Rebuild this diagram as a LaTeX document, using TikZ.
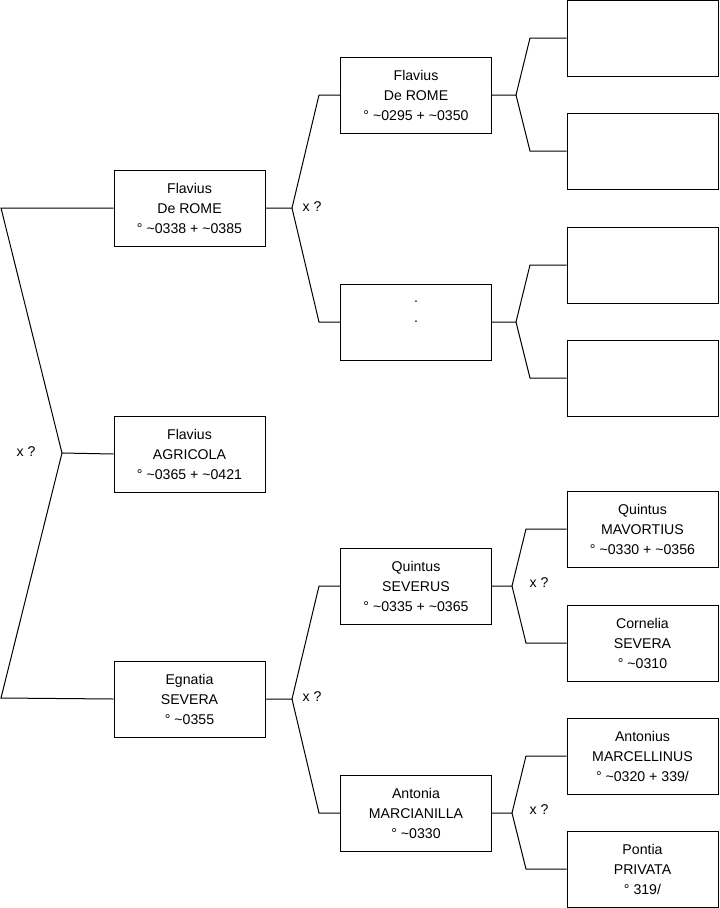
\documentclass[tikz,border=0pt]{standalone}
\usepackage{fontspec}
\setmainfont{Liberation Sans}
\usepackage{tikz}
\tikzset{
    persona/.style={
        draw,
        line width=0.75pt,
        minimum width=113.25pt,
        minimum height=57pt,
        inner sep=0pt,
        align=center,
        font=\fontsize{10.6}{15}\selectfont
    },
    enlace/.style={
        line width=0.75pt
    },
    pregunta/.style={
        font=\fontsize{10.6}{15}\selectfont
    }
}

\begin{document}
\begin{tikzpicture}[
    x=0.75pt,
    y=-0.75pt
]
    \useasboundingbox (0,0) rectangle (719,908);

    % Personas
    \node[persona] (fr1) at (189.5,208) {Flavius\\De ROME\\° \textasciitilde0338 + \textasciitilde0385};
    \node[persona] (fa)  at (189.5,454) {Flavius\\AGRICOLA\\° \textasciitilde0365 + \textasciitilde0421};
    \node[persona] (es)  at (189.5,699) {Egnatia\\SEVERA\\° \textasciitilde0355};

    \node[persona] (fr2) at (416,95)  {Flavius\\De ROME\\° \textasciitilde0295 + \textasciitilde0350};
    \node[persona] (dd)  at (416,322) {.\\.\\~};
    \node[persona] (qs)  at (416,586) {Quintus\\SEVERUS\\° \textasciitilde0335 + \textasciitilde0365};
    \node[persona] (am)  at (416,813) {Antonia\\MARCIANILLA\\° \textasciitilde0330};

    \node[persona] (e1)  at (642.5,38)  {};
    \node[persona] (e2)  at (642.5,151) {};
    \node[persona] (e3)  at (642.5,265) {};
    \node[persona] (e4)  at (642.5,378) {};
    \node[persona] (qm)  at (642.5,529) {Quintus\\MAVORTIUS\\° \textasciitilde0330 + \textasciitilde0356};
    \node[persona] (cs)  at (642.5,643) {Cornelia\\SEVERA\\° \textasciitilde0310};
    \node[persona] (ma)  at (642.5,756) {Antonius\\MARCELLINUS\\° \textasciitilde0320 + 339/};
    \node[persona] (pp)  at (642.5,869) {Pontia\\PRIVATA\\° 319/};

    % Bifurcaciones
    \coordinate (r0) at (62,453);
    \coordinate (r1) at (1,208);
    \coordinate (r2) at (1,698);

    \coordinate (a0) at (292,208);
    \coordinate (a1) at (319,95);
    \coordinate (a2) at (319,322);

    \coordinate (b0) at (292,699);
    \coordinate (b1) at (319,586);
    \coordinate (b2) at (319,813);

    \coordinate (c0) at (516,95);
    \coordinate (c1) at (530,38);
    \coordinate (c2) at (530,151);

    \coordinate (d0) at (516,322);
    \coordinate (d1) at (530,265);
    \coordinate (d2) at (530,378);

    \coordinate (g0) at (512,586);
    \coordinate (g1) at (526,529);
    \coordinate (g2) at (526,643);

    \coordinate (h0) at (512,813);
    \coordinate (h1) at (526,756);
    \coordinate (h2) at (526,869);

    % Enlaces
    \draw[enlace] (fa.west) -- (r0) -- (r1) -- (fr1.west);
    \draw[enlace] (r0) -- (r2) -- (es.west);

    \draw[enlace] (fr1.east) -- (a0) -- (a1) -- (fr2.west);
    \draw[enlace] (a0) -- (a2) -- (dd.west);

    \draw[enlace] (es.east) -- (b0) -- (b1) -- (qs.west);
    \draw[enlace] (b0) -- (b2) -- (am.west);

    \draw[enlace] (fr2.east) -- (c0) -- (c1) -- (e1.west);
    \draw[enlace] (c0) -- (c2) -- (e2.west);

    \draw[enlace] (dd.east) -- (d0) -- (d1) -- (e3.west);
    \draw[enlace] (d0) -- (d2) -- (e4.west);

    \draw[enlace] (qs.east) -- (g0) -- (g1) -- (qm.west);
    \draw[enlace] (g0) -- (g2) -- (cs.west);

    \draw[enlace] (am.east) -- (h0) -- (h1) -- (ma.west);
    \draw[enlace] (h0) -- (h2) -- (pp.west);

    % Preguntas
    \node[pregunta] (x0) at (26,452)  {x ?};
    \node[pregunta] (x1) at (312,207) {x ?};
    \node[pregunta] (x2) at (312,697) {x ?};
    \node[pregunta] (x3) at (539,583) {x ?};
    \node[pregunta] (x4) at (539,810) {x ?};

\end{tikzpicture}
\end{document}
